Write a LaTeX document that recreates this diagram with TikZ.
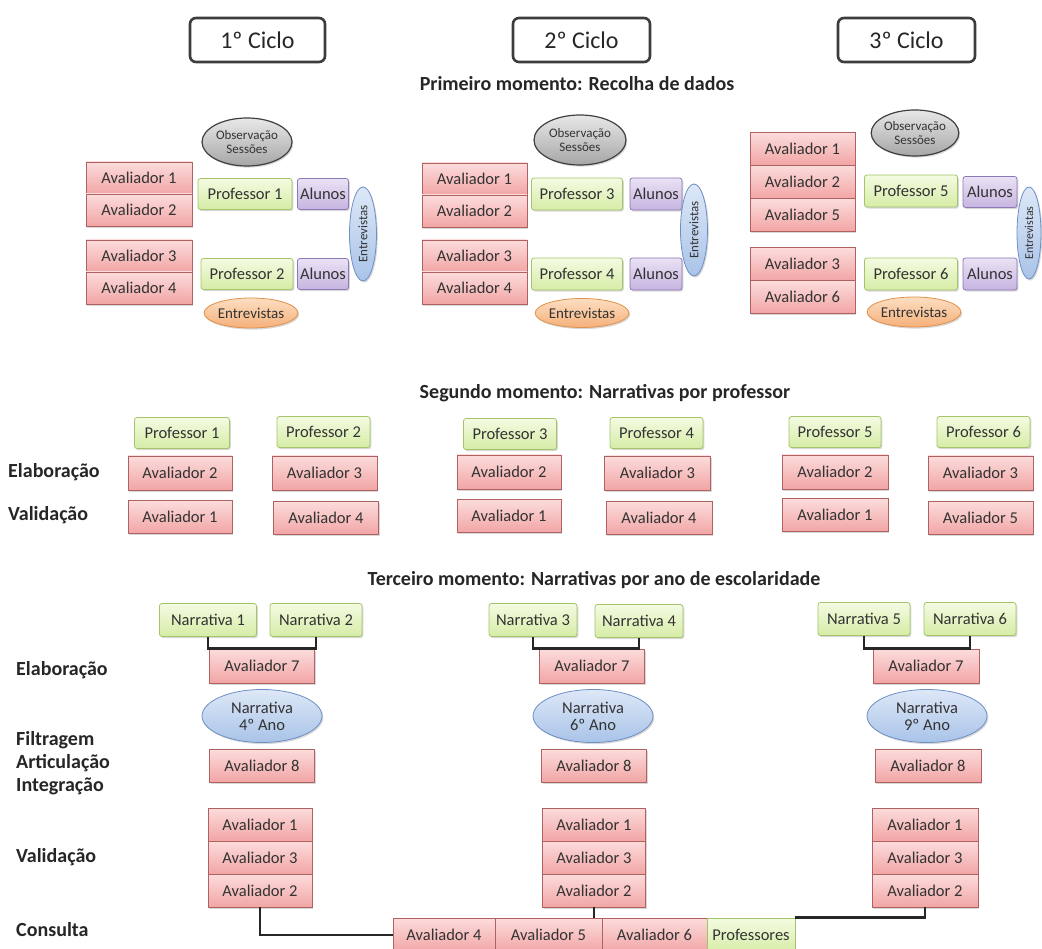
\documentclass[tikz,border=0pt]{standalone}
\usepackage{fontspec}
\setmainfont{Carlito}
\usetikzlibrary{shapes.geometric,shadows}
\definecolor{pkT}{HTML}{FCDCDC}\definecolor{pkB}{HTML}{F2A5A5}\definecolor{pkD}{HTML}{B06262}
\definecolor{gnT}{HTML}{F4FBE2}\definecolor{gnB}{HTML}{D6ECA6}\definecolor{gnD}{HTML}{A3C46A}
\definecolor{puT}{HTML}{EAE2F5}\definecolor{puB}{HTML}{C6B4E0}\definecolor{puD}{HTML}{8C79B5}
\definecolor{blT}{HTML}{DDE8F7}\definecolor{blB}{HTML}{A9C3E8}\definecolor{blD}{HTML}{6E8FC4}
\definecolor{gyT}{HTML}{E8E8E8}\definecolor{gyB}{HTML}{A6A6A6}\definecolor{gyD}{HTML}{404040}
\definecolor{orT}{HTML}{FCDEC2}\definecolor{orB}{HTML}{F5B07A}\definecolor{orD}{HTML}{E0914A}
\definecolor{cycD}{HTML}{3C3C3C}\definecolor{txt}{HTML}{262626}\definecolor{btxt}{HTML}{333333}
\begin{document}
\begin{tikzpicture}[x=1pt,y=-1pt,
  bx/.style={draw, line width=0.8pt, inner sep=0pt, align=center, text=btxt,
     font=\fontsize{16.5}{17}\selectfont,
     drop shadow={shadow xshift=1.3pt, shadow yshift=-1.6pt, opacity=0.3}},
  sz/.style n args={2}{minimum width=#1pt, minimum height=#2pt},
  pk/.style={bx, rectangle, draw=pkD, top color=pkT, bottom color=pkB},
  gb/.style={bx, rectangle, rounded corners=2.5pt, draw=gnD, top color=gnT, bottom color=gnB},
  pu/.style={bx, rectangle, rounded corners=2.5pt, draw=puD, top color=puT, bottom color=puB},
  ell/.style={bx, ellipse},
  gy/.style={ell, draw=gyD, line width=1.2pt, top color=gyT, bottom color=gyB, font=\fontsize{13}{14}\selectfont},
  orng/.style={ell, draw=orD, top color=orT, bottom color=orB, font=\fontsize{15}{16}\selectfont},
  blu/.style={ell, draw=blD, top color=blT, bottom color=blB},
  cyc/.style={draw=cycD, line width=2.6pt, rounded corners=6pt, fill=white, inner sep=0pt,
     minimum height=44pt, font=\fontsize{24}{26}\selectfont, text=black!85},
  hd/.style={font=\bfseries\fontsize{20}{22}\selectfont, text=txt, inner sep=0pt},
  lb/.style={anchor=west, inner sep=0pt, font=\bfseries\fontsize{20}{22}\selectfont, text=txt},
  conn/.style={line width=2.8pt, draw=black!85}
]
\useasboundingbox[fill=white] (0,0) rectangle (1042,949);

% ---------- cycles ----------
\node[cyc, minimum width=135pt] (c1) at (257.5,40) {1º Ciclo};
\node[cyc, minimum width=137pt] (c2) at (581.5,40) {2º Ciclo};
\node[cyc, minimum width=137pt] (c3) at (906.5,40) {3º Ciclo};

\node[hd] (t1) at (577,84) {Primeiro momento: Recolha de dados};

% ---------- first moment, cycle 1 ----------
\node[gy, sz={90}{48}] (o1) at (247,142) {Observação\\Sessões};
\node[pk, sz={106}{32}] (a11) at (139,178) {Avaliador 1};
\node[pk, sz={106}{32}] (a12) at (139,210) {Avaliador 2};
\node[pk, sz={106}{32}] (a13) at (139,256) {Avaliador 3};
\node[pk, sz={106}{32}] (a14) at (139,288) {Avaliador 4};
\node[gb, sz={94}{31}] (p1) at (245,194) {Professor 1};
\node[pu, sz={51}{31}] (al1) at (323,194) {Alunos};
\node[gb, sz={92}{31}] (p2) at (247,274) {Professor 2};
\node[pu, sz={51}{31}] (al2) at (323,274) {Alunos};
\node[blu, sz={94}{27}, rotate=90, font=\fontsize{13}{14}\selectfont] (ev1) at (363,234) {Entrevistas};
\node[orng, sz={88}{30}] (eo1) at (251,313) {Entrevistas};

% ---------- cycle 2 ----------
\node[gy, sz={92}{50}] (o2) at (580,140) {Observação\\Sessões};
\node[pk, sz={105}{32}] (a21) at (474.5,179) {Avaliador 1};
\node[pk, sz={105}{32}] (a22) at (474.5,211) {Avaliador 2};
\node[pk, sz={105}{32}] (a23) at (474.5,256) {Avaliador 3};
\node[pk, sz={105}{32}] (a24) at (474.5,288) {Avaliador 4};
\node[gb, sz={91}{32}] (p3) at (577,194) {Professor 3};
\node[pu, sz={52}{32}] (al3) at (656,194) {Alunos};
\node[gb, sz={91}{32}] (p4) at (577,274) {Professor 4};
\node[pu, sz={52}{32}] (al4) at (656,274) {Alunos};
\node[blu, sz={92}{27}, rotate=90, font=\fontsize{13}{14}\selectfont] (ev2) at (694,230) {Entrevistas};
\node[orng, sz={82}{29}] (eo2) at (582,313) {Entrevistas};

% ---------- cycle 3 ----------
\node[gy, sz={86}{46}] (o3) at (915,133) {Observação\\Sessões};
\node[pk, sz={105}{33}] (a31) at (802.5,149) {Avaliador 1};
\node[pk, sz={105}{33}] (a32) at (802.5,182) {Avaliador 2};
\node[pk, sz={105}{33}] (a33) at (802.5,215) {Avaliador 5};
\node[pk, sz={105}{33}] (a34) at (802.5,264) {Avaliador 3};
\node[pk, sz={105}{33}] (a35) at (802.5,297) {Avaliador 6};
\node[gb, sz={93}{32}] (p5) at (911,191) {Professor 5};
\node[pu, sz={54}{31}] (al5) at (990,192) {Alunos};
\node[gb, sz={93}{32}] (p6) at (911,274) {Professor 6};
\node[pu, sz={54}{32}] (al6) at (990,274) {Alunos};
\node[blu, sz={92}{24}, rotate=90, font=\fontsize{12}{13}\selectfont] (ev3) at (1029,233) {Entrevistas};
\node[orng, sz={78}{30}] (eo3) at (914,312) {Entrevistas};

% ---------- second moment ----------
\node[hd] (t2) at (605,393) {Segundo momento: Narrativas por professor};
\node[lb] (l21) at (8,472) {Elaboração};
\node[lb] (l22) at (8,515) {Validação};

\node[gb, sz={95}{31}] (qA) at (182,433) {Professor 1};
\node[pk, sz={104}{34}] (qA1) at (180,473) {Avaliador 2};
\node[pk, sz={104}{33}] (qA2) at (180,517) {Avaliador 1};
\node[gb, sz={93}{31}] (qB) at (323.5,432) {Professor 2};
\node[pk, sz={105}{34}] (qB1) at (324.5,473) {Avaliador 3};
\node[pk, sz={105}{33}] (qB2) at (326,518) {Avaliador 4};
\node[gb, sz={93}{31}] (qC) at (510,434) {Professor 3};
\node[pk, sz={104}{34}] (qC1) at (509,472) {Avaliador 2};
\node[pk, sz={104}{33}] (qC2) at (509,516) {Avaliador 1};
\node[gb, sz={93}{31}] (qD) at (656.5,433) {Professor 4};
\node[pk, sz={106}{34}] (qD1) at (657.5,473) {Avaliador 3};
\node[pk, sz={106}{33}] (qD2) at (659,518) {Avaliador 4};
\node[gb, sz={92}{31}] (qE) at (835,432) {Professor 5};
\node[pk, sz={106}{34}] (qE1) at (835,472) {Avaliador 2};
\node[pk, sz={106}{33}] (qE2) at (835,515) {Avaliador 1};
\node[gb, sz={93}{31}] (qF) at (983.5,432) {Professor 6};
\node[pk, sz={105}{34}] (qF1) at (980.5,473) {Avaliador 3};
\node[pk, sz={105}{33}] (qF2) at (980.5,518) {Avaliador 5};

% ---------- third moment ----------
\node[hd] (t3) at (594,580) {Terceiro momento: Narrativas por ano de escolaridade};
\node[lb] (l31) at (16,670) {Elaboração};
\node[lb] (l32) at (16,740) {Filtragem};
\node[lb] (l33) at (16,763) {Articulação};
\node[lb] (l34) at (16,786) {Integração};
\node[lb] (l35) at (16,857) {Validação};
\node[lb] (l36) at (16,930) {Consulta};

% column 1
\node[gb, sz={97}{33}] (n1) at (208,620) {Narrativa 1};
\node[gb, sz={92}{33}] (n2) at (316,620) {Narrativa 2};
\node[pk, sz={105}{34}] (r17) at (262,666) {Avaliador 7};
\node[blu, sz={120}{53}] (e1) at (262,716) {Narrativa\\4º Ano};
\node[pk, sz={105}{33}] (r18) at (262,765.5) {Avaliador 8};
\node[pk, sz={104}{33}] (v11) at (260,824.5) {Avaliador 1};
\node[pk, sz={104}{33}] (v12) at (260,857.5) {Avaliador 3};
\node[pk, sz={104}{33}] (v13) at (260,890.5) {Avaliador 2};
% column 2
\node[gb, sz={88}{33}] (n3) at (533,620) {Narrativa 3};
\node[gb, sz={88}{33}] (n4) at (639,621) {Narrativa 4};
\node[pk, sz={105}{34}] (r27) at (592,666) {Avaliador 7};
\node[blu, sz={120}{53}] (e2) at (593,716) {Narrativa\\6º Ano};
\node[pk, sz={105}{33}] (r28) at (594,765.5) {Avaliador 8};
\node[pk, sz={103}{33}] (v21) at (594,824.5) {Avaliador 1};
\node[pk, sz={103}{33}] (v22) at (594,857.5) {Avaliador 3};
\node[pk, sz={103}{33}] (v23) at (594,890.5) {Avaliador 2};
% column 3
\node[gb, sz={92}{33}] (n5) at (864,619) {Narrativa 5};
\node[gb, sz={92}{33}] (n6) at (970,619) {Narrativa 6};
\node[pk, sz={106}{34}] (r37) at (926,666) {Avaliador 7};
\node[blu, sz={120}{53}] (e3) at (927,716) {Narrativa\\9º Ano};
\node[pk, sz={106}{33}] (r38) at (928,765.5) {Avaliador 8};
\node[pk, sz={106}{33}] (v31) at (925,824.5) {Avaliador 1};
\node[pk, sz={106}{33}] (v32) at (925,857.5) {Avaliador 3};
\node[pk, sz={106}{33}] (v33) at (925,890.5) {Avaliador 2};

% brackets
\draw[conn] (n1.south) |- (r17.north) -| (n2.south);
\draw[conn] (n3.south) |- (r27.north) -| (n4.south);
\draw[conn] (n5.south) |- (r37.north) -| (n6.south);

% consulta row
\node[pk, sz={102}{34}] (b4) at (444,935) {Avaliador 4};
\node[pk, sz={107}{34}] (b5) at (548.5,935) {Avaliador 5};
\node[pk, sz={105}{34}] (b6) at (654.5,935) {Avaliador 6};
\node[gb, rounded corners=0pt, sz={88}{34}] (bp) at (751,935) {Professores};

\draw[conn] (v13.south) |- (b4.west);
\draw[conn] (v23.south) -- (v23.south |- b5.north);
\draw[conn] (v33.south) |- (bp.north east);
\end{tikzpicture}
\end{document}
